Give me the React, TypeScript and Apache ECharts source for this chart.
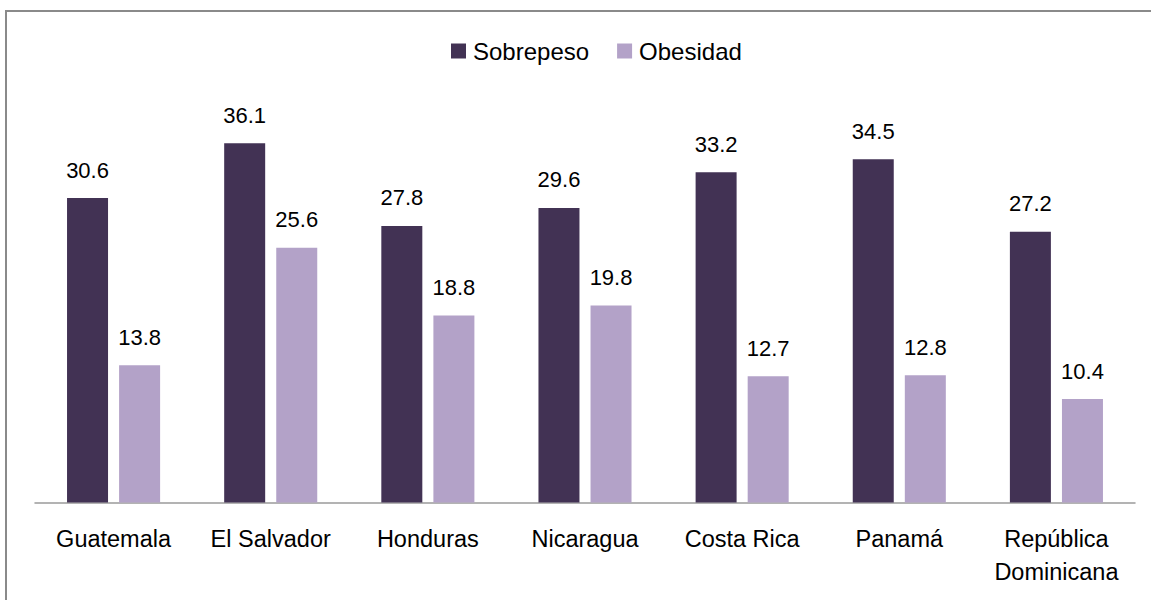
import React, { useEffect, useRef } from "react";
import * as echarts from "echarts";

const categories = [
  "Guatemala",
  "El Salvador",
  "Honduras",
  "Nicaragua",
  "Costa Rica",
  "Panamá",
  "República\nDominicana",
];
const sobrepeso = [30.6, 36.1, 27.8, 29.6, 33.2, 34.5, 27.2];
const obesidad = [13.8, 25.6, 18.8, 19.8, 12.7, 12.8, 10.4];
const seriesNames = ["Sobrepeso", "Obesidad"];

const SANS = "'Liberation Sans', Arial, sans-serif";

export default function App() {
  const ref = useRef<HTMLDivElement>(null);
  useEffect(() => {
    document.body.style.margin = "0";
    if (!ref.current) return;
    const chart = echarts.init(ref.current, null, { renderer: "svg" });
    const labelStyle = {
      show: true,
      position: "top" as const,
      distance: 17,
      fontFamily: SANS,
      fontSize: 22,
      color: "#000",
      formatter: (p: any) => p.value.toFixed(1),
    };
    chart.setOption({
      animation: false,
      backgroundColor: "#fff",
      graphic: [
        {
          type: "rect",
          shape: { x: 6, y: 11, width: 1170, height: 620 },
          style: { fill: "none", stroke: "#8a8a8a", lineWidth: 2 },
          silent: true,
        },
      ],
      legend: {
        left: 446,
        top: 34,
        itemWidth: 15,
        itemHeight: 15,
        itemGap: 28,
        icon: "rect",
        data: seriesNames,
        textStyle: { fontFamily: SANS, fontSize: 24, color: "#000", padding: [0, 0, 0, 2] },
      },
      grid: { left: 35, right: 16, top: 104.5, bottom: 97.5, containLabel: false },
      xAxis: {
        type: "category",
        data: categories,
        axisTick: { show: false },
        axisLine: { lineStyle: { color: "#9a9a9a", width: 1.5 } },
        axisLabel: {
          fontFamily: SANS,
          fontSize: 23.5,
          lineHeight: 33,
          color: "#000",
          margin: 20,
          interval: 0,
        },
      },
      yAxis: {
        type: "value",
        min: 0,
        max: 40,
        show: false,
        splitLine: { show: false },
      },
      series: [
        {
          name: seriesNames[0],
          type: "bar",
          data: sobrepeso,
          barWidth: 41,
          barGap: "27%",
          itemStyle: { color: "#423254" },
          label: labelStyle,
        },
        {
          name: seriesNames[1],
          type: "bar",
          data: obesidad,
          barWidth: 41,
          itemStyle: { color: "#b3a2c8" },
          label: labelStyle,
        },
      ],
    });
    return () => chart.dispose();
  }, []);
  return <div ref={ref} style={{ width: 1151, height: 600, overflow: "hidden" }} />;
}
